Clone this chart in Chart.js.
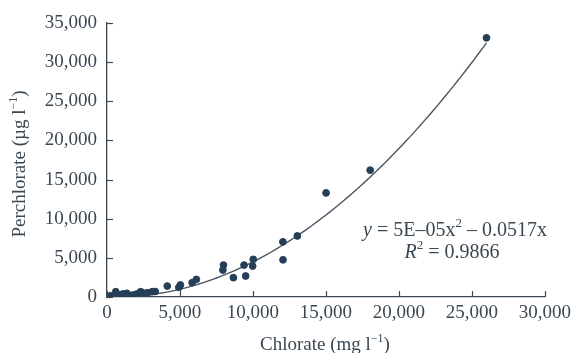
<!DOCTYPE html>
<html>
<head>
<meta charset="utf-8">
<script src="https://cdn.jsdelivr.net/npm/chart.js@4"></script>
<style>
  html, body { margin: 0; padding: 0; background: #fff; }
  #wrap { width: 576px; height: 353px; }
</style>
</head>
<body>
<div id="wrap"><canvas id="chart" width="576" height="353"></canvas></div>
<script>
// samples: chlorate (mg/l) vs perchlorate (ug/l)
var chlorate = [150, 300, 600, 600, 900, 1100, 1360, 1500, 1750, 2000, 2090, 2310, 2540, 2770, 3100, 3300,
    4130, 4920, 5030, 5830, 6120, 7940, 7980, 8660, 9390, 9500, 9980, 10020, 12050, 12060, 13040, 15010, 18030, 26000];
var perchlorate = [100, 150, 680, 130, 250, 400, 470, 200, 250, 350, 380, 680, 470, 550, 680, 700,
    1400, 1240, 1530, 1830, 2250, 3440, 4080, 2470, 4080, 2680, 3950, 4810, 7050, 4750, 7800, 13300, 16200, 33100];

var xTicks = [0, 5000, 10000, 15000, 20000, 25000, 30000];
var yTicks = [0, 5000, 10000, 15000, 20000, 25000, 30000, 35000];

// polynomial trendline y = a*x^2 + b*x
var fitA = 5e-5, fitB = -0.0517, fitR2 = 0.9866;
var fitEnd = 26000;

var trend = [];
for (var x = 0; x <= fitEnd; x += 250) {
    trend.push({x: x, y: fitA * x * x + fitB * x});
}

var points = chlorate.map(function (c, i) { return {x: c, y: perchlorate[i]}; });

var inkColor = '#3b4854';
var dotColor = '#243f57';
var serif = '"Liberation Serif", "DejaVu Serif", serif';

function fmt(v) { return v.toLocaleString('en-US'); }

// text with a "-1" superscript in the middle: before, sup, after
function supLabel(ctx, before, sup, after, cx, by, size) {
    var small = Math.round(size * 0.62);
    ctx.font = size + 'px ' + serif;
    var w1 = ctx.measureText(before).width, w3 = ctx.measureText(after).width;
    ctx.font = small + 'px ' + serif;
    var w2 = ctx.measureText(sup).width;
    var sx = cx - (w1 + w2 + w3) / 2;
    ctx.textAlign = 'left';
    ctx.font = size + 'px ' + serif; ctx.fillText(before, sx, by);
    ctx.font = small + 'px ' + serif; ctx.fillText(sup, sx + w1, by - size * 0.42);
    ctx.font = size + 'px ' + serif; ctx.fillText(after, sx + w1 + w2, by);
}

function drawRun(ctx, parts, cx, by) {
    var total = 0;
    parts.forEach(function (p) { ctx.font = p[1] + serif; total += ctx.measureText(p[0]).width; });
    var x = cx - total / 2;
    ctx.textAlign = 'left';
    parts.forEach(function (p) {
        ctx.font = p[1] + serif;
        ctx.fillText(p[0], x, by + p[2]);
        x += ctx.measureText(p[0]).width;
    });
}

// inward tick marks, axis titles and the fit equation
var extras = {
    id: 'extras',
    afterDraw: function (chart) {
        var ctx = chart.ctx, a = chart.chartArea;
        var xs = chart.scales.x, ys = chart.scales.y;
        ctx.save();
        ctx.strokeStyle = inkColor;
        ctx.lineWidth = 1.2;
        xTicks.forEach(function (t) {
            var px = Math.round(xs.getPixelForValue(t)) + 0.5;
            ctx.beginPath(); ctx.moveTo(px, a.bottom); ctx.lineTo(px, a.bottom - 6); ctx.stroke();
        });
        yTicks.forEach(function (t) {
            var py = Math.round(ys.getPixelForValue(t)) + 0.5;
            ctx.beginPath(); ctx.moveTo(a.left, py); ctx.lineTo(a.left + 6, py); ctx.stroke();
        });

        ctx.fillStyle = inkColor;
        ctx.textBaseline = 'alphabetic';

        supLabel(ctx, 'Chlorate (mg l', '\u22121', ')', 325, 350, 19);

        ctx.save();
        ctx.translate(25, 164);
        ctx.rotate(-Math.PI / 2);
        supLabel(ctx, 'Perchlorate (\u00b5g l', '\u22121', ')', 0, 0, 19);
        ctx.restore();

        drawRun(ctx, [
            ['y', 'italic 20px ', 0], [' = 5E\u201305x', '20px ', 0], ['2', '13px ', -9],
            [' \u2013 0.0517x', '20px ', 0]
        ], 455, 236);
        drawRun(ctx, [
            ['R', 'italic 20px ', 0], ['2', '13px ', -9], [' = ' + fitR2.toFixed(4), '20px ', 0]
        ], 452, 258);
        ctx.restore();
    }
};

new Chart(document.getElementById('chart'), {
    type: 'scatter',
    data: {
        datasets: [{
            label: 'samples',
            data: points,
            backgroundColor: dotColor,
            borderColor: dotColor,
            pointRadius: 3.4,
            pointHoverRadius: 3.4
        }, {
            type: 'line',
            label: 'fit',
            data: trend,
            borderColor: '#4a5663',
            borderWidth: 1.4,
            pointRadius: 0,
            fill: false,
            tension: 0
        }]
    },
    options: {
        responsive: false,
        animation: false,
        layout: { padding: { top: 23, right: 27, left: 0, bottom: 0 } },
        plugins: { legend: { display: false }, tooltip: { enabled: false } },
        scales: {
            x: {
                type: 'linear',
                min: 0, max: 30000,
                afterFit: function (s) { s.height = 56; },
                afterBuildTicks: function (s) { s.ticks = xTicks.map(function (v) { return {value: v}; }); },
                grid: { display: false, drawTicks: false },
                border: { display: true, color: inkColor, width: 1.3 },
                ticks: {
                    padding: 5,
                    color: inkColor,
                    font: { family: serif, size: 19 },
                    maxRotation: 0,
                    callback: function (v) { return fmt(v); }
                }
            },
            y: {
                type: 'linear',
                min: 0, max: 35000,
                afterFit: function (s) { s.width = 107; },
                afterBuildTicks: function (s) { s.ticks = yTicks.map(function (v) { return {value: v}; }); },
                grid: { display: false, drawTicks: false },
                border: { display: true, color: inkColor, width: 1.3 },
                ticks: {
                    padding: 10,
                    color: inkColor,
                    font: { family: serif, size: 19 },
                    callback: function (v) { return fmt(v); }
                }
            }
        }
    },
    plugins: [extras]
});
</script>
</body>
</html>
